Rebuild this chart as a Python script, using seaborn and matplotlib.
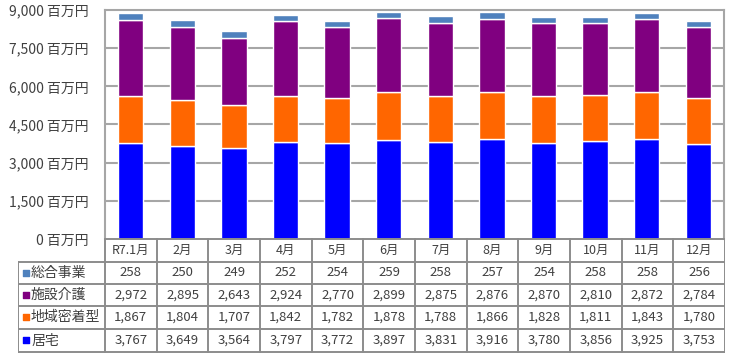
import matplotlib
matplotlib.use("Agg")
import matplotlib.pyplot as plt
import seaborn as sns
import numpy as np
import pandas as pd

months = ["R7.1月", "2月", "3月", "4月", "5月", "6月", "7月", "8月", "9月", "10月", "11月", "12月"]
series_names = ["総合事業", "施設介護", "地域密着型", "居宅"]
sogo = [258, 250, 249, 252, 254, 259, 258, 257, 254, 258, 258, 256]
shisetsu = [2972, 2895, 2643, 2924, 2770, 2899, 2875, 2876, 2870, 2810, 2872, 2784]
chiiki = [1867, 1804, 1707, 1842, 1782, 1878, 1788, 1866, 1828, 1811, 1843, 1780]
kyotaku = [3767, 3649, 3564, 3797, 3772, 3897, 3831, 3916, 3780, 3856, 3925, 3753]
yticks = [0, 1500, 3000, 4500, 6000, 7500, 9000]

colors = {"居宅": "#0000FF", "地域密着型": "#FF6600", "施設介護": "#800080", "総合事業": "#4F81BD"}
values = {"総合事業": sogo, "施設介護": shisetsu, "地域密着型": chiiki, "居宅": kyotaku}

sns.set_theme(style="white")
plt.rcParams['font.family'] = ['Noto Sans CJK JP', 'DejaVu Sans']

W, H = 729, 358
fig = plt.figure(figsize=(W / 100, H / 100), dpi=100)
fig.patch.set_facecolor("white")

def px_axes(x0, y0, x1, y1):
    return fig.add_axes([x0 / W, 1 - y1 / H, (x1 - x0) / W, (y1 - y0) / H])

grid_c = "#A6A6A6"
text_c = "#404040"

ax = px_axes(105, 10, 724, 239)
bottom = np.zeros(len(months))
for name in ["居宅", "地域密着型", "施設介護", "総合事業"]:
    vals = np.array(values[name], dtype=float)
    sns.barplot(x=months, y=vals, bottom=bottom, color=colors[name], saturation=1,
                width=0.49, errorbar=None, ax=ax, zorder=3)
    bottom += vals

ax.set_xlim(-0.5, 11.5)
ax.set_ylim(0, 9000)
ax.set_yticks(yticks)
ax.set_yticklabels([f"{v:,} 百万円" for v in yticks], fontsize=10, color=text_c)
ax.tick_params(axis="y", length=0, pad=12)
ax.set_xticks([])
ax.set_xlabel("")
ax.set_ylabel("")
for v in yticks[1:-1]:
    ax.axhline(v, color=grid_c, lw=1.5, zorder=1)
for s in ["left", "top", "right"]:
    ax.spines[s].set_color(grid_c)
    ax.spines[s].set_linewidth(1.5)
ax.spines["bottom"].set_visible(False)

# data table
tx0, tx1 = 18, 725
cx0 = 105
rows_y = [239, 262, 284, 306, 329, 352]
axt = px_axes(tx0, 237, tx1, 354)
axt.set_xlim(tx0, tx1)
axt.set_ylim(354, 237)
axt.axis("off")
ncol = len(months)
cw = (tx1 - cx0) / ncol
lc = "#8C8C8C"
lw = 1.4
axt.plot([cx0, tx1], [rows_y[0], rows_y[0]], color=lc, lw=lw)
for y in rows_y[1:]:
    axt.plot([tx0, tx1], [y, y], color=lc, lw=lw)
for i in range(ncol + 1):
    x = cx0 + i * cw
    axt.plot([x, x], [rows_y[0], rows_y[-1]], color=lc, lw=lw)
axt.plot([tx0, tx0], [rows_y[1], rows_y[-1]], color=lc, lw=lw)

for i, m in enumerate(months):
    axt.text(cx0 + (i + 0.5) * cw, (rows_y[0] + rows_y[1]) / 2, m, ha="center", va="center",
             fontsize=9, color=text_c)
for r, name in enumerate(series_names):
    yc = (rows_y[r + 1] + rows_y[r + 2]) / 2
    axt.scatter([26], [yc], marker="s", s=24, color=colors[name], zorder=5)
    axt.text(31, yc, name, ha="left", va="center", fontsize=10, color=text_c)
    for i, v in enumerate(values[name]):
        axt.text(cx0 + (i + 0.5) * cw, yc, f"{v:,}", ha="center", va="center",
                 fontsize=9.5, color=text_c)

fig.savefig("out.png", dpi=100, facecolor="white")
